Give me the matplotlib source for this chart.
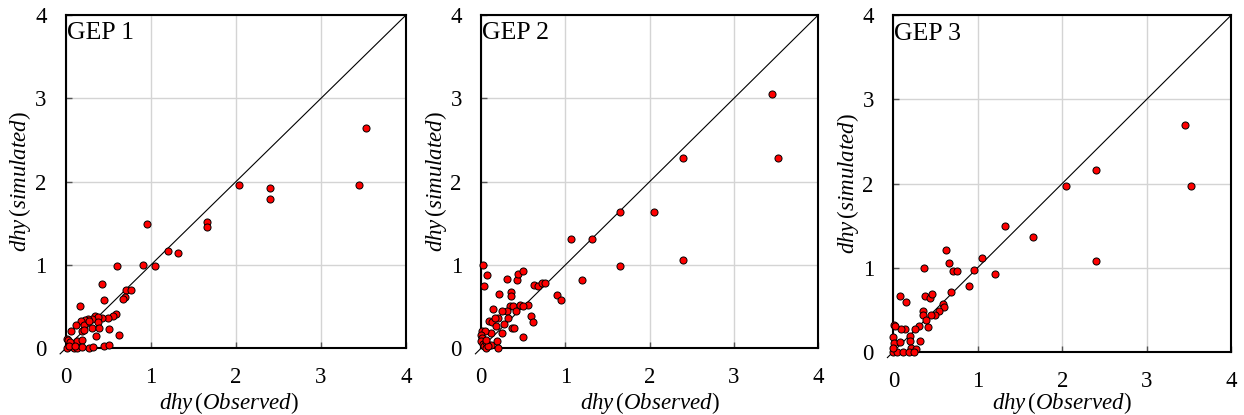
import matplotlib
matplotlib.use("Agg")
import matplotlib.pyplot as plt

# observed / simulated dhy values
gep1_obs = [3.53, 3.45, 2.04, 2.40, 2.40, 1.655, 1.655, 0.95, 1.20, 1.32,
            0.90, 1.05, 0.60, 0.42, 0.71, 0.76, 0.69, 0.67, 0.45, 0.16,
            0.59, 0.55, 0.49, 0.42, 0.345, 0.38, 0.30, 0.26, 0.22, 0.17,
            0.12, 0.21, 0.27, 0.37, 0.305, 0.384, 0.50, 0.627, 0.353, 0.19,
            0.21, 0.06, 0.01, 0.02, 0.13, 0.19, 0.05, 0.01, 0.09, 0.13,
            0.27, 0.32, 0.45, 0.50, 0.19, 0.03, 0.10]
gep1_sim = [2.64, 1.96, 1.96, 1.92, 1.79, 1.51, 1.45, 1.49, 1.16, 1.14,
            1.00, 0.98, 0.98, 0.77, 0.70, 0.70, 0.61, 0.59, 0.58, 0.51,
            0.41, 0.38, 0.36, 0.36, 0.39, 0.37, 0.35, 0.35, 0.34, 0.33,
            0.28, 0.28, 0.32, 0.31, 0.24, 0.24, 0.23, 0.16, 0.15, 0.20,
            0.22, 0.20, 0.11, 0.10, 0.08, 0.10, 0.07, 0.00, 0.00, 0.00,
            0.00, 0.01, 0.03, 0.04, 0.01, 0.03, 0.02]

gep2_obs = [3.45, 3.53, 2.40, 1.65, 2.05, 1.06, 1.32, 2.40, 1.65, 1.20,
            0.90, 0.95, 0.02, 0.07, 0.03, 0.31, 0.42, 0.44, 0.495, 0.21,
            0.35, 0.35, 0.63, 0.67, 0.72, 0.76, 0.14, 0.34, 0.38, 0.46,
            0.55, 0.50, 0.41, 0.30, 0.24, 0.09, 0.13, 0.20, 0.16, 0.17,
            0.27, 0.32, 0.36, 0.39, 0.59, 0.61, 0.24, 0.11, 0.50, 0.19,
            0.20, 0.12, 0.005, 0.04, 0.00, 0.01, 0.00, 0.02, 0.03, 0.05,
            0.06, 0.08, 0.06]
gep2_sim = [3.05, 2.28, 2.28, 1.64, 1.64, 1.31, 1.31, 1.06, 0.99, 0.82,
            0.64, 0.58, 1.00, 0.88, 0.75, 0.83, 0.82, 0.89, 0.92, 0.65,
            0.67, 0.63, 0.76, 0.74, 0.78, 0.78, 0.47, 0.51, 0.51, 0.52,
            0.52, 0.50, 0.45, 0.44, 0.45, 0.32, 0.31, 0.36, 0.36, 0.27,
            0.29, 0.36, 0.24, 0.24, 0.38, 0.31, 0.18, 0.18, 0.13, 0.08,
            0.00, 0.04, 0.21, 0.20, 0.16, 0.12, 0.08, 0.05, 0.02, 0.00,
            0.07, 0.03, 0.10]

gep3_obs = [3.45, 3.53, 2.40, 2.04, 2.40, 1.66, 1.32, 1.05, 0.95, 1.20,
            0.90, 0.62, 0.66, 0.71, 0.75, 0.36, 0.68, 0.08, 0.15, 0.375,
            0.43, 0.46, 0.59, 0.60, 0.545, 0.49, 0.45, 0.355, 0.35, 0.39,
            0.41, 0.31, 0.26, 0.14, 0.09, 0.20, 0.20, 0.32, 0.21, 0.27,
            0.01, 0.02, 0.00, 0.01, 0.075, 0.00, 0.04, 0.12, 0.18, 0.00,
            0.24]
gep3_sim = [2.70, 1.97, 2.16, 1.97, 1.08, 1.36, 1.49, 1.12, 0.97, 0.92,
            0.78, 1.21, 1.05, 0.96, 0.96, 1.00, 0.71, 0.66, 0.59, 0.66,
            0.64, 0.69, 0.57, 0.53, 0.48, 0.44, 0.44, 0.48, 0.44, 0.38,
            0.29, 0.31, 0.27, 0.27, 0.27, 0.19, 0.13, 0.13, 0.04, 0.03,
            0.32, 0.30, 0.18, 0.10, 0.11, 0.00, 0.00, 0.00, 0.00, 0.04,
            0.00]

panel_names = ["GEP 1", "GEP 2", "GEP 3"]
ticks = [0, 1, 2, 3, 4]

plt.rcParams["font.family"] = ["Liberation Serif", "DejaVu Serif"]
plt.rcParams["mathtext.fontset"] = "custom"
plt.rcParams["mathtext.rm"] = "Liberation Serif"
plt.rcParams["mathtext.it"] = "Liberation Serif:italic"


def draw_panel(fig, rect, name, obs, sim, xlab_x, xlab_y):
    ax = fig.add_axes(rect)
    ax.set_xlim(0, 4)
    ax.set_ylim(0, 4)
    ax.set_xticks(ticks)
    ax.set_yticks(ticks)
    ax.grid(True, color="#d4d4d4", linewidth=1.0, zorder=0)
    ax.set_axisbelow(True)
    ax.tick_params(direction="in", length=4, width=1, color="#555555",
                   labelsize=16.5, pad=14)
    for s in ax.spines.values():
        s.set_linewidth(1.5)
        s.set_color("black")

    # 1:1 line, sticking out a bit past the origin like the original
    ax.plot([-0.07, 4], [-0.07, 4], color="black", linewidth=0.8,
            clip_on=False, zorder=2)
    ax.scatter(obs, sim, s=26, c="#ff0000", edgecolors="black",
               linewidths=0.7, zorder=3, clip_on=False)

    ax.text(0.003, 0.927, name, transform=ax.transAxes, fontsize=18.5,
            va="baseline", ha="left")

    ax.set_xlabel(r"$dhy\,$(" + r"$Observed$)", fontsize=16.5)
    ax.xaxis.set_label_coords(xlab_x, xlab_y)
    ax.xaxis.label.set_verticalalignment("center")
    ax.set_ylabel(r"$dhy\,$(" + r"$simulated$)", fontsize=16.5)
    ax.yaxis.set_label_coords(-0.135, 0.5)
    ax.yaxis.label.set_verticalalignment("center")
    return ax


fig = plt.figure(figsize=(12.44, 4.15), dpi=100)
draw_panel(fig, [0.0531, 0.1614, 0.2733, 0.8024], panel_names[0],
           gep1_obs, gep1_sim, 0.48, -0.166)
draw_panel(fig, [0.3869, 0.1614, 0.2707, 0.8020], panel_names[1],
           gep2_obs, gep2_sim, 0.50, -0.166)
draw_panel(fig, [0.7181, 0.1525, 0.2715, 0.8106], panel_names[2],
           gep3_obs, gep3_sim, 0.50, -0.153)

fig.savefig("out.png", dpi=100)
